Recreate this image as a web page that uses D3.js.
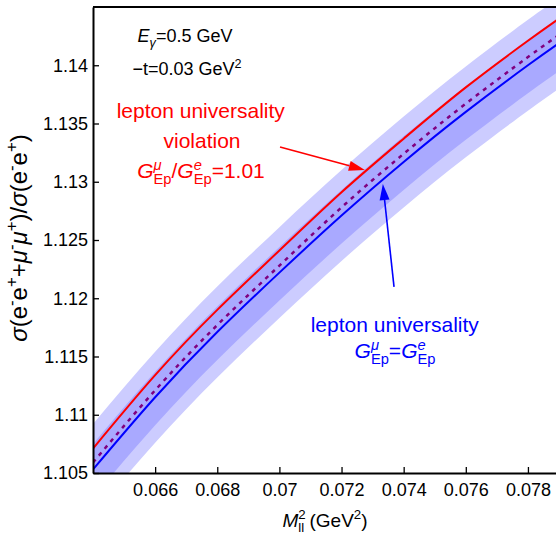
<!DOCTYPE html>
<html>
<head>
<meta charset="utf-8">
<script src="https://cdn.jsdelivr.net/npm/d3@7"></script>
<style>
  body { margin: 0; background: #fff; }
  svg { display: block; }
  text { font-family: "Liberation Sans", Arial, sans-serif; }
</style>
</head>
<body>
<div id="chart"></div>
<script>
// M_ll^2 (GeV^2) grid
var mll2 = [0.064, 0.066, 0.068, 0.070, 0.072, 0.074, 0.076, 0.078, 0.079];
// cross-section ratio, lepton universality (blue)
var ratioUniv = [1.1053, 1.1115, 1.1171, 1.1222, 1.1271, 1.1317, 1.1360, 1.1400, 1.1419];
// lepton universality violation, G_Ep^mu/G_Ep^e = 1.01 (red)
var ratioViol = [1.1071, 1.1134, 1.1190, 1.1241, 1.1291, 1.1337, 1.1381, 1.1421, 1.1440];
// dotted purple curve
var ratioMid = [1.1059, 1.1121, 1.1177, 1.1228, 1.1278, 1.1324, 1.1367, 1.1407, 1.1426];
// uncertainty bands
var outerLow  = [1.1014, 1.1076, 1.1132, 1.1183, 1.1232, 1.1278, 1.1321, 1.1361, 1.1380];
var outerHigh = [1.1092, 1.1154, 1.1210, 1.1261, 1.1310, 1.1356, 1.1399, 1.1439, 1.1458];
var innerLow  = [1.1029, 1.1091, 1.1147, 1.1198, 1.1247, 1.1293, 1.1336, 1.1376, 1.1395];
var innerHigh = [1.1075, 1.1137, 1.1193, 1.1244, 1.1293, 1.1339, 1.1382, 1.1422, 1.1441];

var xTicks = [0.066, 0.068, 0.070, 0.072, 0.074, 0.076, 0.078];
var xTickLabels = ["0.066", "0.068", "0.07", "0.072", "0.074", "0.076", "0.078"];
var yTicks = [1.105, 1.11, 1.115, 1.12, 1.125, 1.13, 1.135, 1.14];
var yTickLabels = ["1.105", "1.11", "1.115", "1.12", "1.125", "1.13", "1.135", "1.14"];

var svg = d3.select("#chart").append("svg").attr("width", 556).attr("height", 535),
    margin = {top: 7, left: 93},
    width = 466,
    height = 466,
    g = svg.append("g").attr("transform", "translate(" + margin.left + "," + margin.top + ")");

var x = d3.scaleLinear().domain([0.064, 0.079]).range([0, width]);
var y = d3.scaleLinear().domain([1.105, 1.145]).range([height, 0]);

g.append("clipPath").attr("id", "clip")
  .append("rect").attr("width", width).attr("height", height);

var plot = g.append("g").attr("clip-path", "url(#clip)");

function band(lo, hi) {
  return d3.area()
    .x(function(d, i) { return x(mll2[i]); })
    .y0(function(d, i) { return y(lo[i]); })
    .y1(function(d, i) { return y(hi[i]); })
    .curve(d3.curveNatural)(mll2);
}
function curve(vals) {
  return d3.line()
    .x(function(d, i) { return x(mll2[i]); })
    .y(function(d, i) { return y(vals[i]); })
    .curve(d3.curveNatural)(mll2);
}

plot.append("path").attr("d", band(outerLow, outerHigh)).attr("fill", "#ccccff");
plot.append("path").attr("d", band(innerLow, innerHigh)).attr("fill", "#a9a9ff");

plot.append("path").attr("d", curve(ratioViol))
  .attr("fill", "none").attr("stroke", "#ff0000").attr("stroke-width", 2);
plot.append("path").attr("d", curve(ratioUniv))
  .attr("fill", "none").attr("stroke", "#0000ff").attr("stroke-width", 2);
plot.append("path").attr("d", curve(ratioMid))
  .attr("fill", "none").attr("stroke", "#800080").attr("stroke-width", 2.5)
  .attr("stroke-dasharray", "4,5");

// axes (ticks point inward)
var xAxis = g.append("g")
  .attr("transform", "translate(0," + height + ")")
  .call(d3.axisBottom(x).tickValues(xTicks)
    .tickFormat(function(d, i) { return xTickLabels[i]; })
    .tickSizeInner(-6).tickSizeOuter(0).tickPadding(10));

var yAxis = g.append("g")
  .call(d3.axisLeft(y).tickValues(yTicks)
    .tickFormat(function(d, i) { return yTickLabels[i]; })
    .tickSizeInner(-6).tickSizeOuter(0).tickPadding(5));

[xAxis, yAxis].forEach(function(a) {
  a.select(".domain").attr("stroke", "#000").attr("stroke-width", 2);
  a.selectAll(".tick line").attr("stroke", "#000").attr("stroke-width", 1.3);
  a.selectAll(".tick text").attr("font-size", 18).attr("fill", "#000")
    .attr("font-family", "Liberation Sans, Arial, sans-serif");
});

g.append("line").attr("x1", 0).attr("x2", width).attr("y1", 0).attr("y2", 0)
  .attr("stroke", "#000").attr("stroke-width", 2);
g.append("line").attr("x1", width).attr("x2", width).attr("y1", 0).attr("y2", height)
  .attr("stroke", "#000").attr("stroke-width", 2);

// rich text: parts {t, it, sup, sub, stack}
function rich(parent, cx, cy, size, color, parts) {
  var t = parent.append("text").attr("font-size", size).attr("fill", color);
  var shift = 0, prev = null;
  parts.forEach(function(p) {
    var s = p.sup ? -0.4 * size : p.sub ? 0.27 * size : 0;
    var sp = t.append("tspan").text(p.t).attr("dy", s - shift);
    shift = s;
    if (p.sup || p.sub) sp.attr("font-size", size * 0.7);
    if (p.it) sp.attr("font-style", "italic");
    if (p.stack && prev) sp.attr("dx", -prev.node().getComputedTextLength());
    prev = sp;
  });
  var bb = t.node().getBBox();
  t.attr("transform", "translate(" + (cx - bb.x - bb.width / 2) + "," + cy + ")");
  return t;
}

rich(svg, 185, 42, 18, "#000", [
  {t: "E", it: true}, {t: "γ", it: true, sub: true}, {t: "=0.5 GeV"}
]);
rich(svg, 187, 75, 18, "#000", [
  {t: "−t=0.03 GeV"}, {t: "2", sup: true}
]);

rich(svg, 201, 118, 21, "#ff0000", [{t: "lepton universality"}]);
rich(svg, 202, 148, 21, "#ff0000", [{t: "violation"}]);
rich(svg, 201, 178, 21, "#ff0000", [
  {t: "G", it: true}, {t: "μ", it: true, sup: true}, {t: "Ep", sub: true, stack: true},
  {t: "/"}, {t: "G", it: true}, {t: "e", it: true, sup: true}, {t: "Ep", sub: true, stack: true},
  {t: "=1.01"}
]);

rich(svg, 395, 332, 21, "#0000ff", [{t: "lepton universality"}]);
rich(svg, 395, 358, 21, "#0000ff", [
  {t: "G", it: true}, {t: "μ", it: true, sup: true}, {t: "Ep", sub: true, stack: true},
  {t: "="}, {t: "G", it: true}, {t: "e", it: true, sup: true}, {t: "Ep", sub: true, stack: true}
]);

// x label
rich(svg, 325, 527, 19, "#000", [
  {t: "M", it: true}, {t: "2", sup: true}, {t: "ll", sub: true, stack: true}, {t: " (GeV"}, {t: "2", sup: true}, {t: ")"}
]);

// y label (rotated)
var yl = svg.append("g").attr("transform", "translate(27,238) rotate(-90)");
rich(yl, 0, 0, 24, "#000", [
  {t: "σ", it: true}, {t: "(e"}, {t: "-", sup: true}, {t: "e"}, {t: "+", sup: true},
  {t: "+"}, {t: "μ", it: true}, {t: "-", sup: true}, {t: "μ", it: true}, {t: "+", sup: true},
  {t: ")/"}, {t: "σ", it: true}, {t: "(e"}, {t: "-", sup: true}, {t: "e"}, {t: "+", sup: true}, {t: ")"}
]);

// arrows
function arrow(x0, y0, x1, y1, color) {
  var px0 = x(x0), py0 = y(y0), px1 = x(x1), py1 = y(y1);
  var ang = Math.atan2(py1 - py0, px1 - px0), L = 16, W = 5;
  var bx = px1 - L * Math.cos(ang), by = py1 - L * Math.sin(ang);
  g.append("line").attr("x1", px0).attr("y1", py0).attr("x2", bx).attr("y2", by)
    .attr("stroke", color).attr("stroke-width", 1.6);
  g.append("path")
    .attr("d", "M" + px1 + "," + py1 +
      "L" + (bx + W * Math.sin(ang)) + "," + (by - W * Math.cos(ang)) +
      "L" + (bx - W * Math.sin(ang)) + "," + (by + W * Math.cos(ang)) + "Z")
    .attr("fill", color);
}
arrow(0.07002, 1.13298, 0.07275, 1.13101, "#ff0000");
arrow(0.07369, 1.12097, 0.07333, 1.1298, "#0000ff");
</script>
</body>
</html>
